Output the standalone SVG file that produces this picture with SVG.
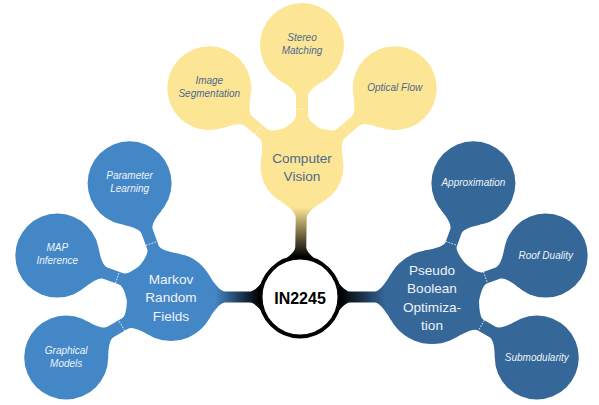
<svg xmlns="http://www.w3.org/2000/svg" width="599" height="405" viewBox="0 0 599 405">
  <defs>
    <style>
      .cv { fill: #FCE594; }
      .mrf { fill: #4487C7; }
      .pbo { fill: #356798; }
      .root { fill: #FFFFFF; stroke: #000000; stroke-width: 4; }
      text { font-family: "Liberation Sans", Arial, sans-serif; text-anchor: middle; }
      .t0 { font-size: 16px; font-weight: bold; fill: #000000; }
      .t1 { font-size: 13.6px; }
      .t2 { font-size: 10px; font-style: italic; }
      .dark { fill: #4E6A8E; }
      .light { fill: #EEF3F9; }
      .seam { stroke: #FFFFFF; stroke-width: 0.9; stroke-dasharray: 1.6 1.4; opacity: 0.85; fill: none; }
    </style>
    <!-- neck shapes in a local frame: parent centre at origin, child centre on +x at distance 121 -->
    <path id="neckCV" d="M35.94,-20.75 C39.44,-14.69 45.5,-6 50.5,-6 L70,-6 C75,-6 81.13,-14.94 84.63,-21 L84.63,21 C81.13,14.94 75,6 70,6 L50.5,6 C45.5,6 39.44,14.69 35.94,20.75 Z"/>
    <path id="neckMRF" d="M38.1,-22 C41.6,-15.94 48,-6 53,-6 L70,-6 C75,-6 81.13,-14.94 84.63,-21 L84.63,21 C81.13,14.94 75,6 70,6 L53,6 C48,6 41.6,15.94 38.1,22 Z"/>
    <path id="neckPBO" d="M40.7,-23.5 C44.2,-17.44 51,-6 56,-6 L70,-6 C75,-6 81.13,-14.94 84.63,-21 L84.63,21 C81.13,14.94 75,6 70,6 L56,6 C51,6 44.2,17.44 40.7,23.5 Z"/>
    <line id="seam" x1="57" y1="-6" x2="57" y2="6"/>
    <linearGradient id="gMRF" gradientUnits="userSpaceOnUse" x1="44" y1="0" x2="89" y2="0">
      <stop offset="0" stop-color="#4487C7"/>
      <stop offset="1" stop-color="#000000"/>
    </linearGradient>
    <linearGradient id="gPBO" gradientUnits="userSpaceOnUse" x1="47" y1="0" x2="92" y2="0">
      <stop offset="0" stop-color="#356798"/>
      <stop offset="1" stop-color="#000000"/>
    </linearGradient>
    <linearGradient id="gCV" gradientUnits="userSpaceOnUse" x1="41.5" y1="0" x2="91" y2="0">
      <stop offset="0" stop-color="#FCE594"/>
      <stop offset="1" stop-color="#000000"/>
    </linearGradient>
  </defs>

  <g id="connectors">
    <!-- root to first level -->
    <path transform="translate(171,297)" fill="url(#gMRF)" d="M38.1,-22 C41.6,-15.94 49,-5.5 54,-5.5 L79,-5.5 C84,-5.5 90.86,-13.94 94.36,-20 L94.36,20 C90.86,13.94 84,5.5 79,5.5 L54,5.5 C49,5.5 41.6,15.94 38.1,22 Z"/>
    <path transform="translate(432,297) rotate(180)" fill="url(#gPBO)" d="M40.7,-23.5 C44.2,-17.44 52,-5.5 57,-5.5 L82,-5.5 C87,-5.5 93.86,-13.94 97.36,-20 L97.36,20 C93.86,13.94 87,5.5 82,5.5 L57,5.5 C52,5.5 44.2,17.44 40.7,23.5 Z"/>
    <path transform="translate(302,166) rotate(90.87)" fill="url(#gCV)" d="M35.94,-20.75 C39.44,-14.69 46.5,-5.5 51.5,-5.5 L81,-5.5 C86,-5.5 92.86,-13.94 96.36,-20 L96.36,20 C92.86,13.94 86,5.5 81,5.5 L51.5,5.5 C46.5,5.5 39.44,14.69 35.94,20.75 Z"/>

    <!-- Computer Vision branches -->
    <g transform="translate(302,166) rotate(-140)"><use href="#neckCV" class="cv"/><use href="#seam" class="seam"/></g>
    <g transform="translate(302,166) rotate(-90)"><use href="#neckCV" class="cv"/><use href="#seam" class="seam"/></g>
    <g transform="translate(302,166) rotate(-40)"><use href="#neckCV" class="cv"/><use href="#seam" class="seam"/></g>

    <!-- Markov Random Fields branches -->
    <g transform="translate(171,297) rotate(-110)"><use href="#neckMRF" class="mrf"/><use href="#seam" class="seam"/></g>
    <g transform="translate(171,297) rotate(-160)"><use href="#neckMRF" class="mrf"/><use href="#seam" class="seam"/></g>
    <g transform="translate(171,297) rotate(150)"><use href="#neckMRF" class="mrf"/><use href="#seam" class="seam"/></g>

    <!-- Pseudo Boolean Optimization branches -->
    <g transform="translate(432,297) rotate(-70)"><use href="#neckPBO" class="pbo"/><use href="#seam" class="seam"/></g>
    <g transform="translate(432,297) rotate(-20)"><use href="#neckPBO" class="pbo"/><use href="#seam" class="seam"/></g>
    <g transform="translate(432,297) rotate(30)"><use href="#neckPBO" class="pbo"/><use href="#seam" class="seam"/></g>
  </g>

  <g id="root">
    <circle class="root" cx="300" cy="297" r="39.5"/>
    <text class="t0" x="300" y="303.5">IN2245</text>
  </g>

  <g id="computer-vision">
    <circle class="cv" cx="302" cy="166" r="41.5"/>
    <text class="t1 dark" x="302" y="162.5">Computer</text>
    <text class="t1 dark" x="302" y="181">Vision</text>
  </g>
  <g id="image-segmentation">
    <circle class="cv" cx="209.3" cy="88.2" r="42"/>
    <text class="t2 dark" x="209.3" y="83.7">Image</text>
    <text class="t2 dark" x="209.3" y="96.7">Segmentation</text>
  </g>
  <g id="stereo-matching">
    <circle class="cv" cx="302" cy="45" r="42"/>
    <text class="t2 dark" x="302" y="41">Stereo</text>
    <text class="t2 dark" x="302" y="54">Matching</text>
  </g>
  <g id="optical-flow">
    <circle class="cv" cx="394.7" cy="88.2" r="42"/>
    <text class="t2 dark" x="394.7" y="91.2">Optical Flow</text>
  </g>

  <g id="markov-random-fields">
    <circle class="mrf" cx="171" cy="297" r="44"/>
    <text class="t1 light" x="171" y="283.5">Markov</text>
    <text class="t1 light" x="171" y="302">Random</text>
    <text class="t1 light" x="171" y="320.5">Fields</text>
  </g>
  <g id="parameter-learning">
    <circle class="mrf" cx="129.6" cy="183.3" r="42"/>
    <text class="t2 light" x="129.6" y="178.8">Parameter</text>
    <text class="t2 light" x="129.6" y="191.8">Learning</text>
  </g>
  <g id="map-inference">
    <circle class="mrf" cx="57.3" cy="255.6" r="42"/>
    <text class="t2 light" x="57.3" y="251.1">MAP</text>
    <text class="t2 light" x="57.3" y="264.1">Inference</text>
  </g>
  <g id="graphical-models">
    <circle class="mrf" cx="66.2" cy="357.5" r="42"/>
    <text class="t2 light" x="66.2" y="353.5">Graphical</text>
    <text class="t2 light" x="66.2" y="366.5">Models</text>
  </g>

  <g id="pseudo-boolean-optimization">
    <circle class="pbo" cx="432" cy="297" r="47"/>
    <text class="t1 light" x="432" y="274.5">Pseudo</text>
    <text class="t1 light" x="432" y="293">Boolean</text>
    <text class="t1 light" x="432" y="311.5">Optimiza-</text>
    <text class="t1 light" x="432" y="330">tion</text>
  </g>
  <g id="approximation">
    <circle class="pbo" cx="473.4" cy="183.3" r="42"/>
    <text class="t2 light" x="473.4" y="186.3">Approximation</text>
  </g>
  <g id="roof-duality">
    <circle class="pbo" cx="545.7" cy="255.6" r="42"/>
    <text class="t2 light" x="545.7" y="258.6">Roof Duality</text>
  </g>
  <g id="submodularity">
    <circle class="pbo" cx="536.8" cy="357.5" r="42"/>
    <text class="t2 light" x="536.8" y="360.5">Submodularity</text>
  </g>
</svg>
